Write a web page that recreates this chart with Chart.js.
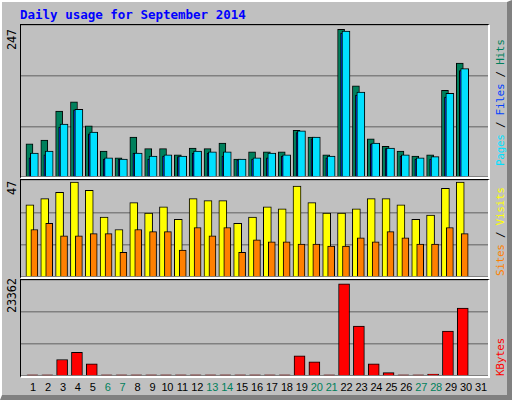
<!DOCTYPE html><html><head><meta charset="utf-8">
<script src="https://cdn.jsdelivr.net/npm/chart.js@4/dist/chart.umd.min.js"></script>
<style>
body{margin:0;width:512px;height:400px;overflow:hidden;background:#c0c0c0;font-family:"DejaVu Sans Mono",monospace}
#frame{position:absolute;left:0;top:0;width:505px;height:393px;border-top:2px solid #fff;border-left:2px solid #fff;border-right:5px solid #808080;border-bottom:5px solid #808080;box-sizing:content-box}
.p{position:absolute;left:20px;width:470px;border-top:1px solid #000;border-left:1px solid #000;border-right:2px solid #fff;border-bottom:2px solid #fff;box-sizing:border-box}
.p canvas{display:block}
.v{position:absolute;transform:rotate(-90deg);transform-origin:left top;font-size:11px;white-space:nowrap;letter-spacing:-0.3px}
#title{position:absolute;left:20px;top:7px;color:#0000ff;font-weight:bold;font-size:12.5px}
#xl span{position:absolute;top:381px;font-size:11px;width:20px;text-align:center;font-family:"Liberation Sans",sans-serif;letter-spacing:-0.2px}
</style></head><body>
<div id="frame"></div>
<div id="title">Daily usage for September 2014</div>
<div class="p" style="top:24px;height:155px"><canvas id="c1"></canvas></div>
<div class="p" style="top:179px;height:100px"><canvas id="c2"></canvas></div>
<div class="p" style="top:279px;height:99px"><canvas id="c3"></canvas></div>
<div class="v" style="left:5px;top:50px;font-size:12px">247</div>
<div class="v" style="left:5px;top:195px;font-size:12px">47</div>
<div class="v" style="left:5px;top:313px;font-size:12px">23362</div>
<div class="v" style="left:494px;top:166px"><span style="color:#00e0ff">Pages</span> / <span style="color:#0040ff">Files</span> / <span style="color:#00805c">Hits</span></div>
<div class="v" style="left:494px;top:276px"><span style="color:#ff8000">Sites</span> / <span style="color:#ffff00">Visits</span></div>
<div class="v" style="left:494px;top:376px;color:#ff0000">KBytes</div>
<div id="xl"></div>
<script>
const days=[1,2,3,4,5,6,7,8,9,10,11,12,13,14,15,16,17,18,19,20,21,22,23,24,25,26,27,28,29,30,31];
const weekends=[6,7,13,14,20,21,27,28];
const hits=[54,60,107,122,83,42,31,65,46,46,36,47,46,55,29,41,41,41,76,65,36,240,148,62,50,42,34,36,141,185,0];
const files=[39,42,86,110,73,31,29,39,34,36,34,42,41,41,29,31,39,36,75,65,34,237,138,55,47,36,31,33,136,176,0];
const pages=[31,36,81,109,70,29,29,39,29,34,33,39,39,34,28,29,31,34,72,62,31,234,133,54,46,34,29,29,130,173,0];
const visits=[35,38,41,46,42,29,23,36,31,34,28,38,37,37,26,29,34,33,44,36,31,31,33,38,38,35,28,30,43,46,0];
const sites=[23,26,20,20,21,21,12,23,22,22,13,24,20,24,12,18,17,17,16,16,15,15,19,17,22,19,16,16,24,21,0];
const kbytes=[300,300,4017,5738,2951,300,300,300,300,300,300,300,300,300,300,300,300,300,4918,3443,300,22460,12132,2951,820,300,300,492,10902,16558,0];
const maxes=[247,47,23362];

const xl=document.getElementById('xl');
days.forEach(d=>{const s=document.createElement('span');s.textContent=d;s.style.left=(33+(d-1)*14.93-10)+'px';s.style.color=weekends.includes(d)?'#00805c':'#000';xl.appendChild(s);});

function pts(arr,off){return days.slice(0,30).map((d,i)=>({x:d+off,y:arr[i]}));}
function ds(arr,off,color,w,order){return {data:pts(arr,off),backgroundColor:color,borderColor:'#000',borderWidth:1,barThickness:w,order:order,grouped:false,borderSkipped:'bottom'};}
function mk(id,max,sets){
 new Chart(document.getElementById(id),{type:'bar',data:{datasets:sets},
 options:{responsive:true,maintainAspectRatio:false,animation:false,layout:{padding:0},
 plugins:{legend:{display:false},tooltip:{enabled:false}},
 scales:{x:{type:'linear',min:0.13,max:31.6,display:false,offset:false},
 y:{min:0,max:max,ticks:{display:false,stepSize:max/3},border:{display:false},grid:{color:'#808080',lineWidth:1.5,drawTicks:false}}}}});
}
mk('c1',maxes[0],[ds(hits,-0.3,'#00805c',7,2),ds(pages,-0.13,'#0040ff',6,1),ds(files,0.03,'#00e0ff',8,0)]);
mk('c2',maxes[1],[ds(visits,-0.27,'#ffff00',8,1),ds(sites,0.03,'#ff8000',7,0)]);
mk('c3',maxes[2],[ds(kbytes,-0.1,'#ff0000',11,0)]);
</script></body></html>
